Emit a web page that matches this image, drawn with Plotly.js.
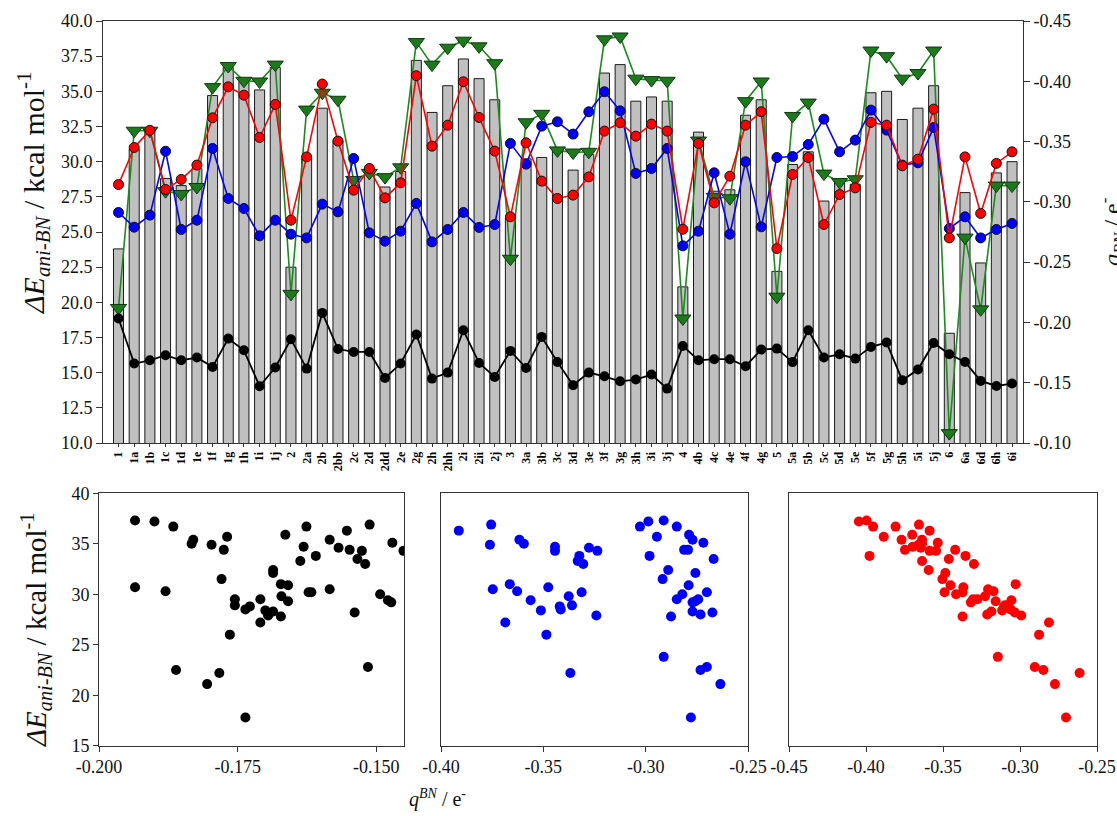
<!DOCTYPE html>
<html>
<head>
<meta charset="utf-8">
<script src="https://cdn.plot.ly/plotly-3.0.1.min.js"></script>
<style>html,body{margin:0;padding:0;background:#fff;}#chart{width:1117px;height:816px;}</style>
</head>
<body>
<div id="chart"></div>
<script>
const labels = ['1','1a','1b','1c','1d','1e','1f','1g','1h','1i','1j','2','2a','2b','2bb','2c','2d','2dd','2e','2g','2h','2hh','2i','2ii','2j','3','3a','3b','3c','3d','3e','3f','3g','3h','3i','3j','4','4b','4c','4e','4f','4g','5','5a','5b','5c','5d','5e','5f','5g','5h','5i','5j','6','6a','6d','6h','6i'];

const dE = [23.8,30.9,32.4,28.8,28.3,29.5,34.7,36.7,35.7,35.1,36.7,22.5,30.2,33.8,31.5,28.9,29.5,28.2,29.3,37.2,33.5,35.4,37.3,35.9,34.4,26.0,30.2,30.3,31.0,29.4,30.5,36.3,36.9,34.3,34.6,34.3,21.1,32.1,27.9,28.0,33.3,34.4,22.2,29.8,30.7,27.2,28.5,28.4,34.9,35.0,33.0,33.8,35.4,17.8,27.8,22.8,29.2,30.0];

const greenE = [19.6,32.2,32.2,27.9,27.7,28.2,35.3,36.8,35.75,35.7,36.9,20.6,33.7,34.9,34.4,28.7,29.2,28.9,29.6,38.5,36.9,38.1,38.6,38.2,37.0,23.1,32.8,33.4,30.8,30.65,30.7,38.7,38.9,35.9,35.8,35.75,18.85,31.5,27.5,27.4,34.3,35.7,20.4,33.25,34.2,29.15,28.55,28.75,37.9,37.5,35.9,36.3,37.9,10.7,24.6,19.5,28.3,28.3];

const qBlack = [-0.2032,-0.1659,-0.1686,-0.1728,-0.1686,-0.1709,-0.1631,-0.1866,-0.1769,-0.1471,-0.1626,-0.1861,-0.1617,-0.2079,-0.1779,-0.1755,-0.1755,-0.1539,-0.1659,-0.1900,-0.1534,-0.1584,-0.1935,-0.1664,-0.1548,-0.1764,-0.1622,-0.1880,-0.1672,-0.1479,-0.1584,-0.1553,-0.1512,-0.1526,-0.1568,-0.1451,-0.1805,-0.1686,-0.1695,-0.1695,-0.1637,-0.1775,-0.1783,-0.1671,-0.1935,-0.1709,-0.1736,-0.1700,-0.1797,-0.1833,-0.1520,-0.1609,-0.1830,-0.1736,-0.1672,-0.1515,-0.1473,-0.1493];

const qBlue = [-0.2912,-0.2790,-0.2890,-0.3420,-0.2771,-0.2848,-0.3443,-0.3028,-0.2945,-0.2718,-0.2848,-0.2732,-0.2701,-0.2981,-0.2917,-0.3360,-0.2743,-0.2674,-0.2757,-0.2987,-0.2668,-0.2771,-0.2912,-0.2788,-0.2812,-0.3485,-0.3313,-0.3628,-0.3664,-0.3562,-0.3747,-0.3913,-0.3755,-0.3236,-0.3277,-0.3443,-0.2635,-0.2757,-0.3241,-0.2732,-0.3332,-0.2793,-0.3368,-0.3376,-0.3476,-0.3686,-0.3415,-0.3512,-0.3761,-0.3595,-0.3305,-0.3324,-0.3617,-0.2779,-0.2876,-0.2701,-0.2771,-0.2821];

const qRed = [-0.3144,-0.3451,-0.3593,-0.3103,-0.3186,-0.3305,-0.3697,-0.3954,-0.3885,-0.3534,-0.3808,-0.2848,-0.3373,-0.3977,-0.3504,-0.3097,-0.3277,-0.3033,-0.3158,-0.4046,-0.3462,-0.3636,-0.3996,-0.3700,-0.3421,-0.2876,-0.3490,-0.3172,-0.3028,-0.3056,-0.3207,-0.3587,-0.3656,-0.3545,-0.3645,-0.3587,-0.2773,-0.3485,-0.2992,-0.3213,-0.3636,-0.3747,-0.2613,-0.3227,-0.3368,-0.2812,-0.3061,-0.3116,-0.3659,-0.3636,-0.3299,-0.3354,-0.3769,-0.2701,-0.3373,-0.2904,-0.3319,-0.3415];

const leftTicks = [10,12.5,15,17.5,20,22.5,25,27.5,30,32.5,35,37.5,40];
const rightTicks = [-0.45,-0.40,-0.35,-0.30,-0.25,-0.20,-0.15,-0.10];
const panel1Ticks = [-0.200,-0.175,-0.150];
const panel2Ticks = [-0.40,-0.35,-0.30,-0.25];
const panel3Ticks = [-0.45,-0.40,-0.35,-0.30,-0.25];
const panelYTicks = [15,20,25,30,35,40];

const W = 1117, H = 816;
const px = v => v / W;
const py = v => 1 - v / H;
const serif = '"Liberation Serif", serif';
const idx = labels.map((_, i) => i);

const traces = [
  {type:'bar', x: idx, y: dE, xaxis:'x', yaxis:'y', width:0.64,
   marker:{color:'#c0c0c0', line:{color:'#1a1a1a', width:1}}, hoverinfo:'y'},
  {type:'scatter', mode:'lines+markers', x: idx, y: greenE, xaxis:'x', yaxis:'y',
   line:{color:'#1c8a1c', width:1.6},
   marker:{symbol:'triangle-down', size:14, color:'#1b7a1b', line:{color:'#0b3a0b', width:1}}},
  {type:'scatter', mode:'lines+markers', x: idx, y: qBlack, xaxis:'x', yaxis:'y2',
   line:{color:'#000', width:1.8}, marker:{size:10, color:'#000'}},
  {type:'scatter', mode:'lines+markers', x: idx, y: qBlue, xaxis:'x', yaxis:'y2',
   line:{color:'#0000ff', width:1.6}, marker:{size:10, color:'#0000ff', line:{color:'#111', width:1}}},
  {type:'scatter', mode:'lines+markers', x: idx, y: qRed, xaxis:'x', yaxis:'y2',
   line:{color:'#ff0000', width:1.6}, marker:{size:10, color:'#ff0000', line:{color:'#111', width:1}}},
  {type:'scatter', mode:'markers', x: qBlack, y: dE, xaxis:'x2', yaxis:'y3',
   marker:{size:10, color:'#000'}, cliponaxis:true},
  {type:'scatter', mode:'markers', x: qBlue, y: dE, xaxis:'x3', yaxis:'y4',
   marker:{size:10, color:'#0000ff'}, cliponaxis:true},
  {type:'scatter', mode:'markers', x: qRed, y: dE, xaxis:'x4', yaxis:'y5',
   marker:{size:10, color:'#ff0000'}, cliponaxis:true}
];

const axBase = {showline:true, linecolor:'#333', linewidth:1, showgrid:false, zeroline:false,
  ticks:'outside', tickcolor:'#333', tickfont:{family:serif, size:18, color:'#111'}};

const topDomY = [py(443), py(21)];
const botDomY = [py(745.7), py(493.3)];

const layout = {
  width: W, height: H,
  margin:{l:0, r:0, t:0, b:0},
  font:{family:serif},
  paper_bgcolor:'#fff', plot_bgcolor:'rgba(0,0,0,0)',
  showlegend:false,
  bargap:0,
  xaxis: Object.assign({}, axBase, {domain:[px(103), px(1023)], anchor:'y', range:[-0.99, 57.7],
    tickvals: idx, ticktext: labels, tickangle:-90, ticklen:3, mirror:true,
    tickfont:{family:serif, size:12, color:'#000', weight:'bold'}}),
  yaxis: Object.assign({}, axBase, {domain: topDomY, anchor:'x', range:[10,40],
    tickvals: leftTicks, ticktext: leftTicks.map(v => v.toFixed(1)), ticklen:6}),
  yaxis2: Object.assign({}, axBase, {overlaying:'y', side:'right', anchor:'x', range:[-0.10,-0.45],
    tickvals: rightTicks, ticktext: rightTicks.map(v => v.toFixed(2)), ticklen:6}),
  xaxis2: Object.assign({}, axBase, {domain:[px(99), px(404)], anchor:'y3', range:[-0.2,-0.145], mirror:true,
    tickvals: panel1Ticks, ticktext: panel1Ticks.map(v => v.toFixed(3)), ticklen:5}),
  yaxis3: Object.assign({}, axBase, {domain: botDomY, anchor:'x2', range:[15,40], mirror:true,
    tickvals: panelYTicks, ticktext: panelYTicks.map(String), ticklen:5}),
  xaxis3: Object.assign({}, axBase, {domain:[px(441), px(748)], anchor:'y4', range:[-0.40,-0.25], mirror:true,
    tickvals: panel2Ticks, ticktext: panel2Ticks.map(v => v.toFixed(2)), ticklen:5}),
  yaxis4: Object.assign({}, axBase, {domain: botDomY, anchor:'x3', range:[15,40], mirror:true,
    ticks:'', showticklabels:false}),
  xaxis4: Object.assign({}, axBase, {domain:[px(789), px(1097)], anchor:'y5', range:[-0.45,-0.25], mirror:true,
    tickvals: panel3Ticks, ticktext: panel3Ticks.map(v => v.toFixed(2)), ticklen:5}),
  yaxis5: Object.assign({}, axBase, {domain: botDomY, anchor:'x4', range:[15,40], mirror:true,
    ticks:'', showticklabels:false}),
  annotations: [
    {xref:'paper', yref:'paper', x: px(33), y: py(193), textangle:-90, showarrow:false,
     xanchor:'center', yanchor:'middle',
     text:'<i>ΔE</i><sub><i>ani-BN</i></sub> / kcal mol<sup>-1</sup>', font:{family:serif, size:30, color:'#111'}},
    {xref:'paper', yref:'paper', x: px(36), y: py(630), textangle:-90, showarrow:false,
     xanchor:'center', yanchor:'middle',
     text:'<i>ΔE</i><sub><i>ani-BN</i></sub> / kcal mol<sup>-1</sup>', font:{family:serif, size:29, color:'#111'}},
    {xref:'paper', yref:'paper', x: px(1112), y: py(232), textangle:-90, showarrow:false,
     xanchor:'center', yanchor:'middle',
     text:'<i>q</i><sub><i>BN</i></sub> / e<sup>-</sup>', font:{family:serif, size:24, color:'#111'}},
    {xref:'paper', yref:'paper', x: px(437), y: py(798), showarrow:false,
     xanchor:'center', yanchor:'middle',
     text:'<i>q</i><sup><i>BN</i></sup> / e<sup>-</sup>', font:{family:serif, size:20, color:'#111'}}
  ]
};

Plotly.newPlot('chart', traces, layout, {displayModeBar:false, staticPlot:true});
</script>
</body>
</html>
